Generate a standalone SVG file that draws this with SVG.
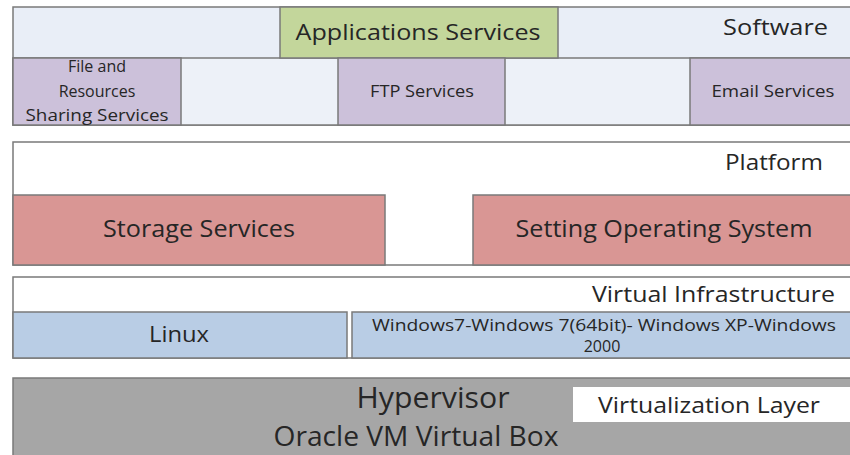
<svg xmlns="http://www.w3.org/2000/svg" width="850" height="455" viewBox="0 0 850 455">
<style>
.b{stroke:#7a7a7a;stroke-width:1.5}
.t{font-family:"Open Sans","Liberation Sans",sans-serif;fill:#262626}
.lt{fill:#e9eef7}
.pu{fill:#ccc1da}
.rd{fill:#d99694}
.bl{fill:#b9cde5}
</style>
<rect width="850" height="455" fill="#ffffff"/>
<g id="software">
<rect class="b lt" x="13" y="7" width="845" height="118"/>
<rect class="b" x="13" y="58" width="845" height="67" fill="#edf1f8"/>
<text class="t" x="828" y="35" font-size="22" text-anchor="end" textLength="105" lengthAdjust="spacingAndGlyphs">Software</text>
</g>
<g id="applications-services">
<rect class="b" x="280" y="7" width="278" height="51" fill="#c3d69b"/>
<text class="t" x="418" y="40" font-size="22" text-anchor="middle" textLength="245" lengthAdjust="spacingAndGlyphs">Applications Services</text>
</g>
<g id="file-services">
<rect class="b pu" x="13" y="58" width="168" height="67"/>
<text class="t" font-size="16" text-anchor="middle"><tspan x="97" y="72">File and</tspan><tspan x="97" y="97">Resources</tspan><tspan x="97" y="121" textLength="143" lengthAdjust="spacingAndGlyphs">Sharing  Services</tspan></text>
</g>
<g id="ftp-services">
<rect class="b pu" x="338" y="58" width="167" height="67"/>
<text class="t" x="422" y="97" font-size="16" text-anchor="middle" textLength="104" lengthAdjust="spacingAndGlyphs">FTP Services</text>
</g>
<g id="email-services">
<rect class="b pu" x="690" y="58" width="168" height="67"/>
<text class="t" x="773" y="97" font-size="16" text-anchor="middle" textLength="123" lengthAdjust="spacingAndGlyphs">Email Services</text>
</g>
<g id="platform">
<rect class="b" x="13" y="142" width="845" height="123" fill="#ffffff"/>
<text class="t" x="823" y="170" font-size="22" text-anchor="end" textLength="98" lengthAdjust="spacingAndGlyphs">Platform</text>
</g>
<g id="storage-services">
<rect class="b rd" x="13" y="195" width="372" height="70"/>
<text class="t" x="199" y="237" font-size="24" text-anchor="middle" fill="#3a1a1a" textLength="192" lengthAdjust="spacingAndGlyphs">Storage Services</text>
</g>
<g id="setting-os">
<rect class="b rd" x="473" y="195" width="385" height="70"/>
<text class="t" x="664" y="237" font-size="24" text-anchor="middle" textLength="297" lengthAdjust="spacingAndGlyphs">Setting Operating System</text>
</g>
<g id="virtual-infrastructure">
<rect class="b" x="13" y="277" width="845" height="81" fill="#ffffff"/>
<text class="t" x="835" y="302" font-size="22" text-anchor="end" textLength="243" lengthAdjust="spacingAndGlyphs">Virtual Infrastructure</text>
</g>
<g id="linux">
<rect class="b bl" x="13" y="312" width="334" height="46"/>
<text class="t" x="179" y="342" font-size="22" text-anchor="middle" textLength="60" lengthAdjust="spacingAndGlyphs">Linux</text>
</g>
<g id="windows">
<rect class="b bl" x="352" y="312" width="506" height="46"/>
<text class="t" font-size="16" text-anchor="middle"><tspan x="604" y="331" textLength="464" lengthAdjust="spacingAndGlyphs">Windows7-Windows 7(64bit)- Windows XP-Windows</tspan><tspan x="602" y="352">2000</tspan></text>
</g>
<g id="hypervisor">
<rect class="b" x="13" y="378" width="845" height="85" fill="#a6a6a6"/>
<text class="t" x="433" y="408" font-size="29" text-anchor="middle" fill="#1a1a1a" textLength="153" lengthAdjust="spacingAndGlyphs">Hypervisor</text>
<text class="t" x="416" y="446" font-size="28" text-anchor="middle" fill="#1a1a1a" textLength="285" lengthAdjust="spacingAndGlyphs">Oracle VM Virtual Box</text>
</g>
<g id="virtualization-layer">
<rect x="573" y="387" width="285" height="35" fill="#ffffff"/>
<text class="t" x="709" y="413" font-size="22" text-anchor="middle" fill="#1a1a1a" textLength="222" lengthAdjust="spacingAndGlyphs">Virtualization Layer</text>
</g>
<g id="connectors"/>
</svg>
